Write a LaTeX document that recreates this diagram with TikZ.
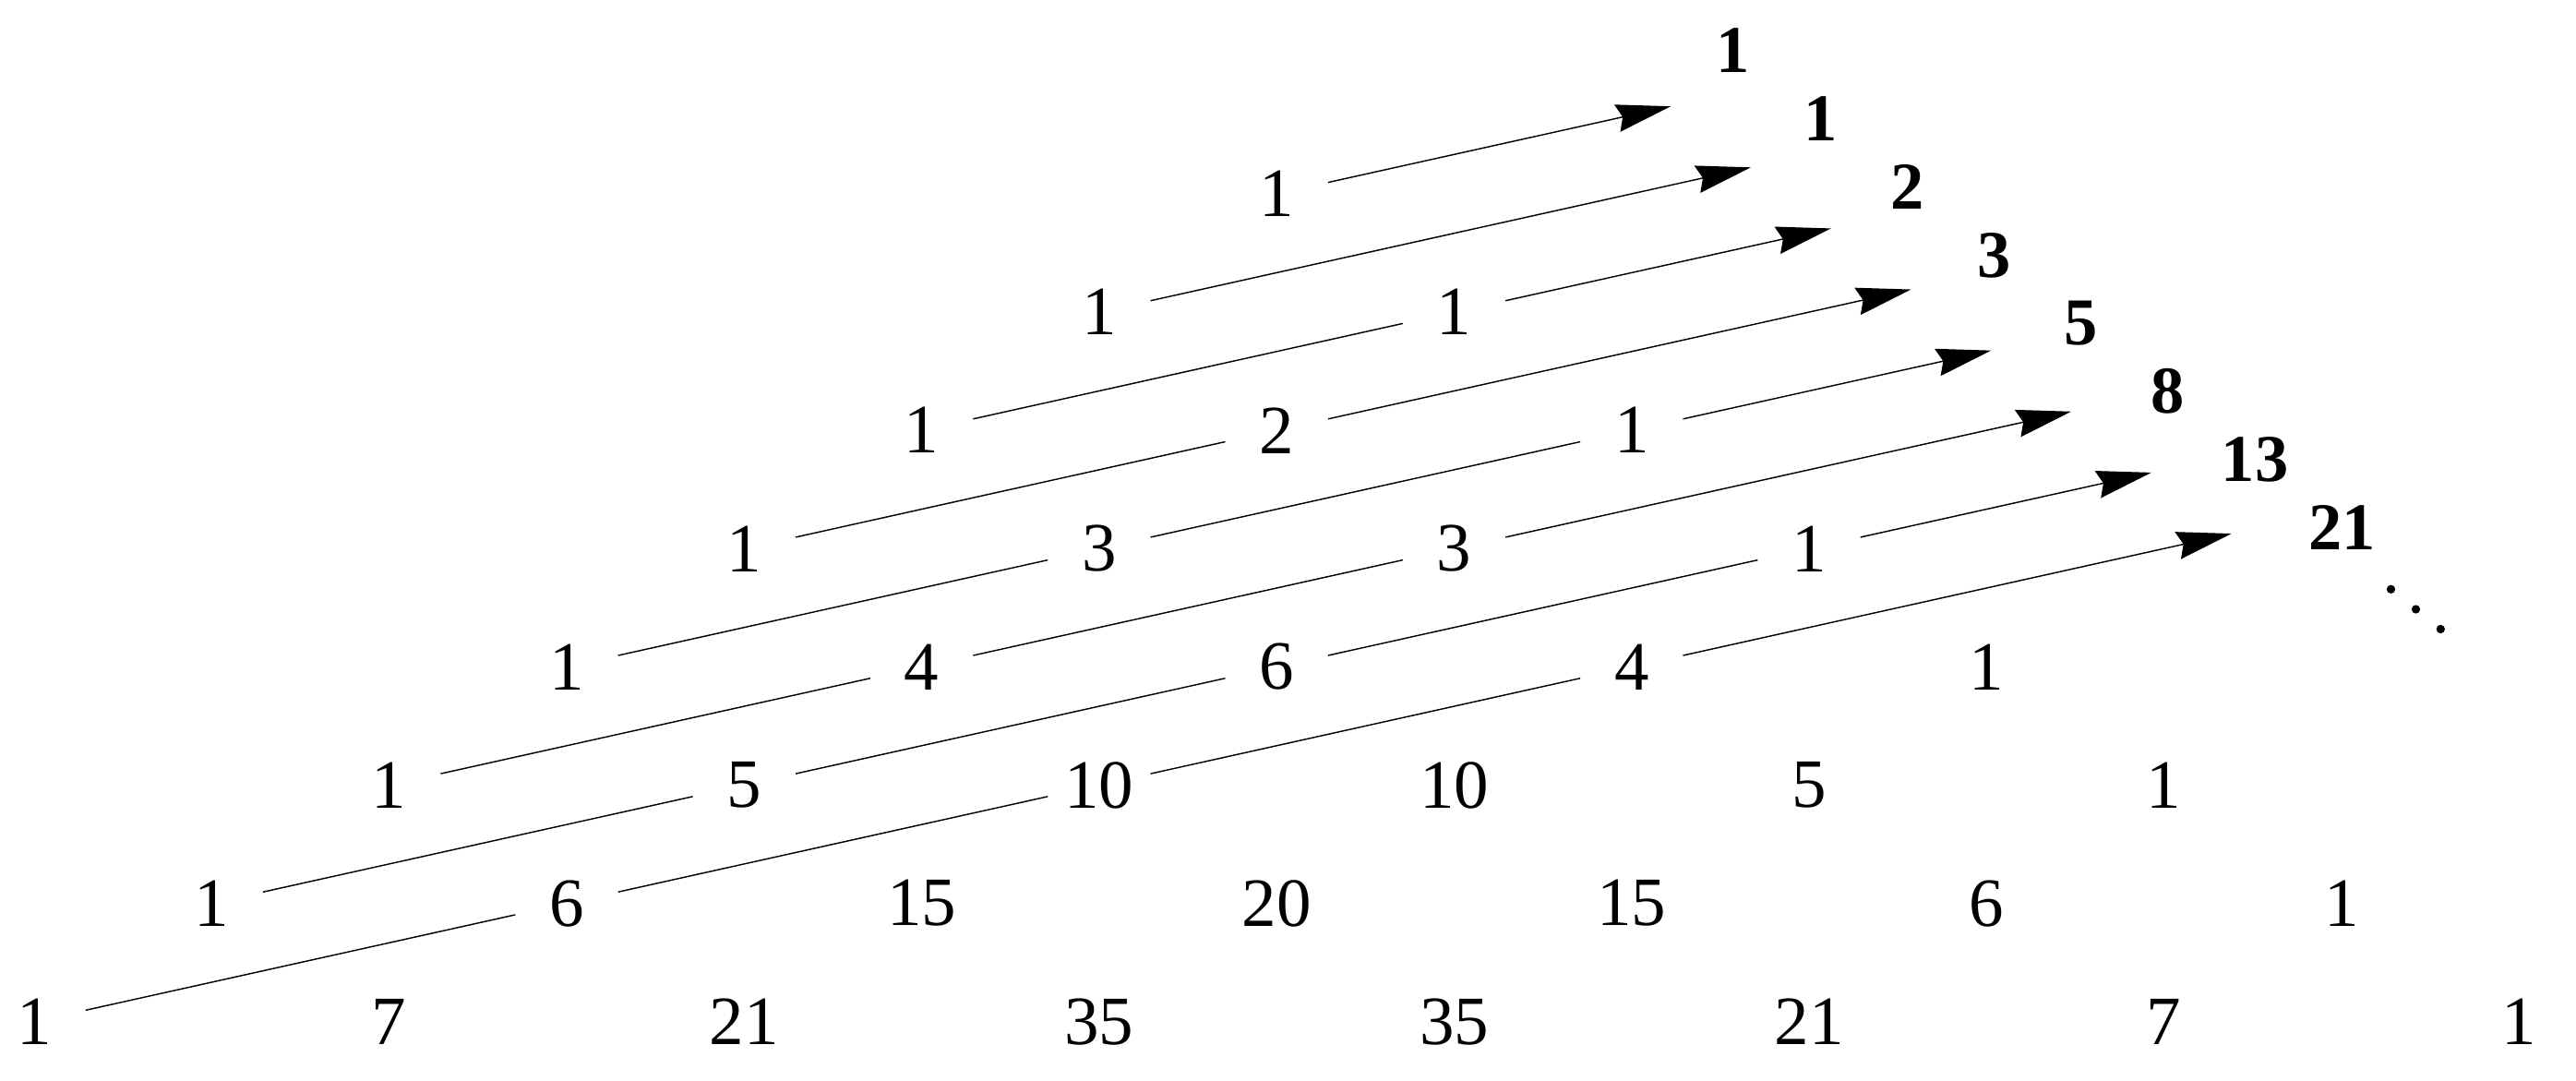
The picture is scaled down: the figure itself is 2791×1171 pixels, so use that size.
\documentclass[tikz,border=0pt]{standalone}
\usepackage{fontspec}
\setmainfont{Liberation Serif}
\usetikzlibrary{arrows.meta}
\begin{document}
\begin{tikzpicture}[x=0.28pt,y=-0.28pt,
  pn/.style={font=\fontsize{21pt}{25pt}\selectfont, inner sep=0pt,
    minimum width=30.8pt, minimum height=14pt},
  fib/.style={font=\bfseries\fontsize{20.3pt}{24pt}\selectfont, inner sep=0pt},
  diag/.style={line width=0.4pt, -{Stealth[length=16.6pt,width=8.4pt,inset=1.7pt]}}]
\useasboundingbox (0,0) rectangle (2791,1171);
% Pascal triangle
\foreach \n/\vals in {0/{1},1/{1,1},2/{1,2,1},3/{1,3,3,1},4/{1,4,6,4,1},
  5/{1,5,10,10,5,1},6/{1,6,15,20,15,6,1},7/{1,7,21,35,35,21,7,1}} {
  \foreach \v [count=\k from 0] in \vals {
    \node[pn] (p-\n-\k) at ({1383.2-192.3*\n+384.6*\k},{210+128.1*\n}) {\v};
  }
}
% Fibonacci numbers
\foreach \v [count=\i from 0] in {1,1,2,3,5,8,13,21} {
  \node[fib] (f\i) at ({1878+94.19*\i},{55+73.81*\i}) {\v};
}
% arrow tips
\foreach \i in {0,...,7} {
  \coordinate (t\i) at ({1810.2+86.78*\i},{115.2+66.12*\i});
}
% diagonals
\draw[diag] (p-0-0) -- (t0);
\draw[diag] (p-1-0) -- (t1);
\draw[diag] (p-2-0) -- (p-1-1) -- (t2);
\draw[diag] (p-3-0) -- (p-2-1) -- (t3);
\draw[diag] (p-4-0) -- (p-3-1) -- (p-2-2) -- (t4);
\draw[diag] (p-5-0) -- (p-4-1) -- (p-3-2) -- (t5);
\draw[diag] (p-6-0) -- (p-5-1) -- (p-4-2) -- (p-3-3) -- (t6);
\draw[diag] (p-7-0) -- (p-6-1) -- (p-5-2) -- (p-4-3) -- (t7);
% continuation dots
\fill (2590.5,638.3) circle[radius=1.3pt];
\fill (2617.5,660) circle[radius=1.3pt];
\fill (2644.3,681.5) circle[radius=1.3pt];
\end{tikzpicture}
\end{document}
